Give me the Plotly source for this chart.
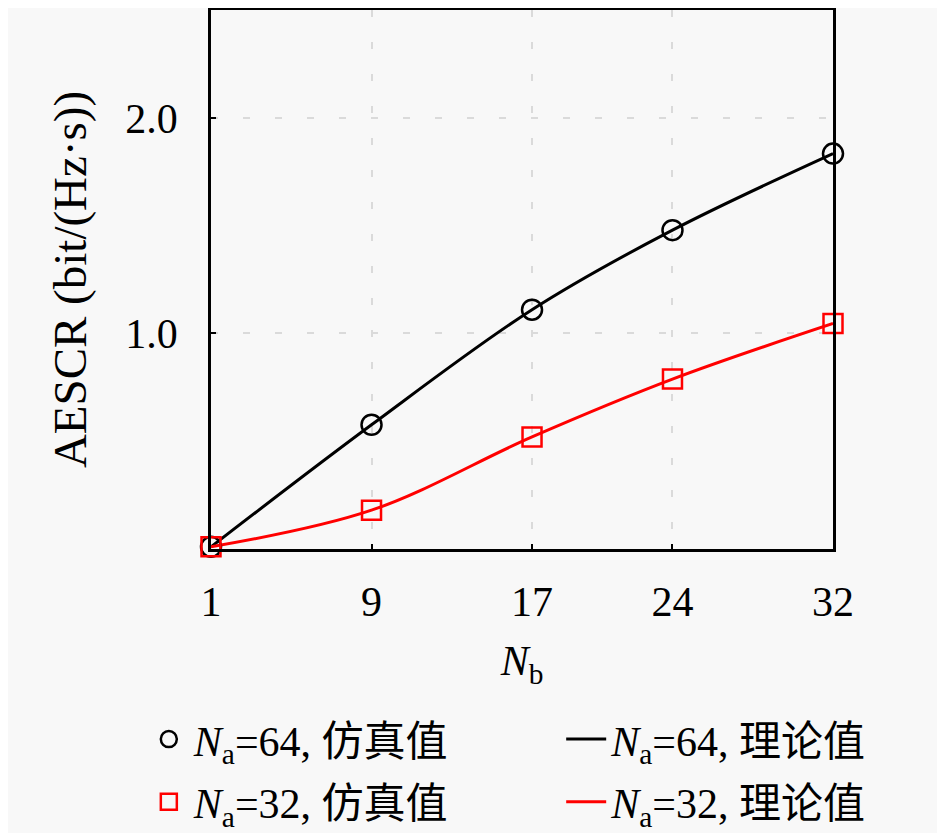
import plotly.graph_objects as go

# Data
nb = [1, 9, 17, 24, 32]
aescr_64_sim = [0.01, 0.576, 1.11, 1.479, 1.834]
aescr_32_sim = [0.01, 0.18, 0.52, 0.788, 1.046]
aescr_64_theory = [0.01, 0.576, 1.11, 1.479, 1.834]
aescr_32_theory = [0.01, 0.18, 0.52, 0.788, 1.046]

y_ticks = [1.0, 2.0]
y_ticktext = ["1.0", "2.0"]

label_64_sim = "<i>N</i><sub>a</sub>=64, 仿真值"
label_64_theory = "<i>N</i><sub>a</sub>=64, 理论值"
label_32_sim = "<i>N</i><sub>a</sub>=32, 仿真值"
label_32_theory = "<i>N</i><sub>a</sub>=32, 理论值"

font_family = "Liberation Serif, Noto Sans CJK SC, serif"
fsize = 42
bg = "#f8f8f8"

fig = go.Figure()

# lines first so the markers sit on top
# column 1 of the legend = markers (legend), column 2 = lines (legend2)
fig.add_trace(go.Scatter(
    x=nb, y=aescr_64_theory, mode="lines", name=label_64_theory,
    legend="legend2", legendgroup="t64", legendrank=1,
    line=dict(color="black", width=3, shape="spline")
))
fig.add_trace(go.Scatter(
    x=nb, y=aescr_32_theory, mode="lines", name=label_32_theory,
    legend="legend2", legendgroup="t32", legendrank=2,
    line=dict(color="red", width=3, shape="spline")
))
fig.add_trace(go.Scatter(
    x=nb, y=aescr_64_sim, mode="markers", name=label_64_sim,
    legend="legend", legendgroup="s64", legendrank=1, cliponaxis=False,
    marker=dict(symbol="circle-open", size=20, color="black", line=dict(width=2.5))
))
fig.add_trace(go.Scatter(
    x=nb, y=aescr_32_sim, mode="markers", name=label_32_sim,
    legend="legend", legendgroup="s32", legendrank=2, cliponaxis=False,
    marker=dict(symbol="square-open", size=19, color="red", line=dict(width=2.5))
))

fig.update_xaxes(
    range=[1, 32], tickvals=nb, ticks="inside", ticklen=5, tickwidth=2,
    tickcolor="black", showline=True, linecolor="black", linewidth=2.5,
    mirror=True, showgrid=True, gridcolor="#dadada", gridwidth=1.5,
    griddash="7px,25px", zeroline=False, ticklabelstandoff=14,
    tickfont=dict(size=fsize, family=font_family, color="black"),
    title=dict(text="<i>N</i><sub>b</sub>", standoff=22,
               font=dict(size=fsize, family=font_family, color="black")),
)
fig.update_yaxes(
    range=[0, 2.5], tickvals=y_ticks, ticktext=y_ticktext, ticks="inside",
    ticklen=5, tickwidth=2, tickcolor="black", showline=True,
    linecolor="black", linewidth=2.5, mirror=True, showgrid=True,
    gridcolor="#dadada", gridwidth=1.5, griddash="7px,25px", zeroline=False,
    ticklabelstandoff=22,
    tickfont=dict(size=fsize, family=font_family, color="black"),
    title=dict(text="AESCR (bit/(Hz·s))", standoff=24,
               font=dict(size=47, family=font_family, color="black")),
)

legend_style = dict(
    orientation="v", xanchor="left", y=-0.29, yanchor="top",
    bgcolor="rgba(0,0,0,0)", tracegroupgap=5, itemwidth=40,
    font=dict(size=fsize, family=font_family, color="black"),
)

fig.update_layout(
    width=945, height=833,
    margin=dict(l=203, r=120, t=2, b=292, autoexpand=False),
    paper_bgcolor=bg, plot_bgcolor=bg,
    font=dict(family=font_family, size=fsize, color="black"),
    legend=dict(x=-0.108, **legend_style),
    legend2=dict(x=0.563, **legend_style),
    showlegend=True,
)

fig.write_html("out.html")
